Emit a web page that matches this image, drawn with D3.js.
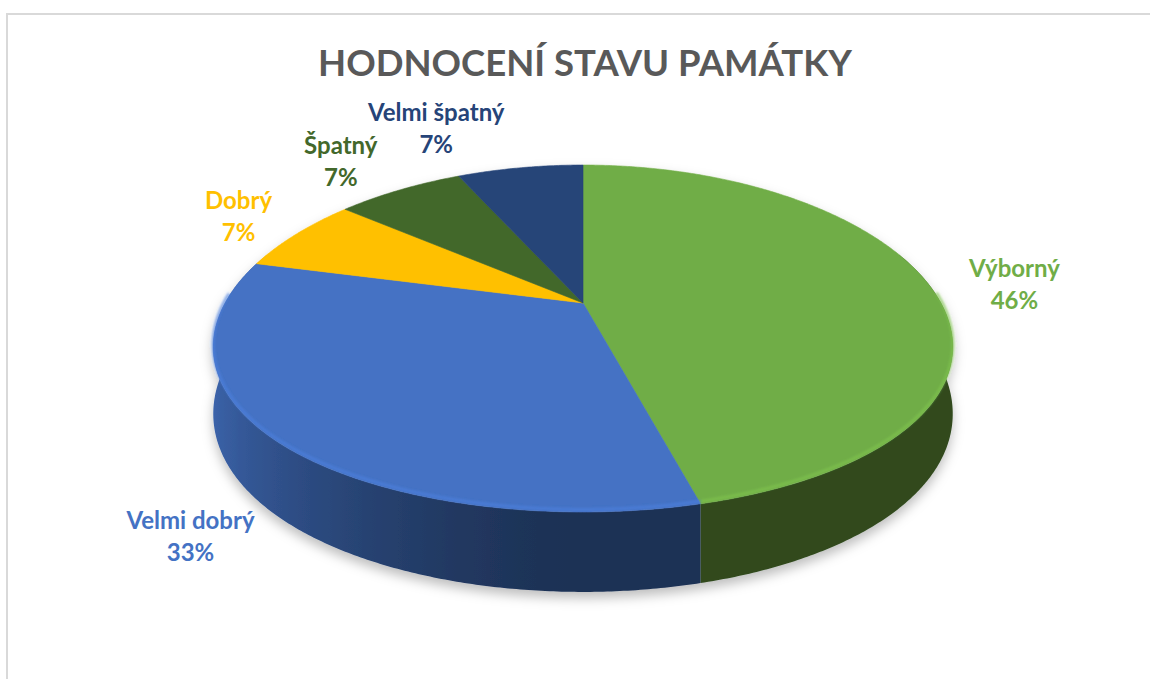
<!DOCTYPE html>
<html><head><meta charset="utf-8">
<script src="https://cdn.jsdelivr.net/npm/d3@7"></script>
<style>html,body{margin:0;padding:0;background:#fff;} svg{display:block;}</style>
</head><body>
<svg id="chart" width="1150" height="679"></svg>
<script>
// ---- data ----
const title = "HODNOCENÍ STAVU PAMÁTKY";
const categories = ["Výborný", "Velmi dobrý", "Dobrý", "Špatný", "Velmi špatný"];
const values = [46, 33, 7, 7, 7];
const colors = ["#70AD47", "#4472C4", "#FFC000", "#43682B", "#264478"];

// ---- layout ----
const W = 1150, H = 679;
const cx = 583, cy = 303, A = 358, B = 166.2, p = 0.2046, q = 0.25, depth = 63.6;
const labelOffsets = [[87, -6], [-85, 89], [-58, -25], [-59, -36], [-84, -47]];
const lineGap = 32;

const svg = d3.select("#chart");
const defs = svg.append("defs");
const sh = defs.append("filter").attr("id", "shadow").attr("x", "-10%").attr("y", "-10%").attr("width", "120%").attr("height", "130%");
sh.append("feDropShadow").attr("dx", 0).attr("dy", 6).attr("stdDeviation", 6).attr("flood-color", "#000").attr("flood-opacity", 0.26);
const bl = defs.append("filter").attr("id", "blur").attr("x", "-5%").attr("y", "-5%").attr("width", "110%").attr("height", "110%");
bl.append("feGaussianBlur").attr("stdDeviation", 1.3);

// chart border
svg.append("rect").attr("x", 7).attr("y", 14).attr("width", W + 20).attr("height", H + 20)
  .attr("fill", "none").attr("stroke", "#D9D9D9").attr("stroke-width", 2);

svg.append("text").attr("x", 585).attr("y", 76).attr("text-anchor", "middle")
  .attr("font-family", "Lato, 'Open Sans', sans-serif").attr("font-weight", 700)
  .attr("font-size", 36.5).attr("fill", "#595959").text(title);

function topPt(t) {
  const s = Math.sin(t), c = Math.cos(t);
  return [cx + A * s / (1 + q * c), cy - B * c / (1 + p * c)];
}
function botPt(t) {
  const s = Math.sin(t), c = Math.cos(t);
  return [cx + A * s / (1 + q * c), cy - B * c / (1 + p * c) + depth / (1 + p * c)];
}
function shade(t) {
  return 0.43 + 0.47 * Math.pow(Math.max(0, -Math.sin(t)), 1.5);
}

const pie = d3.pie().sort(null).value(d => d);
const arcs = pie(values);
const total = d3.sum(values);
const pct = d3.format(".0%");
const line = d3.line();
const step = Math.PI / 360;
const silR = Math.PI - Math.acos(q), silL = Math.PI + Math.acos(q); // silhouette angles

const g = svg.append("g").attr("filter", "url(#shadow)");

// side walls, one path per slice with a horizontal shading gradient
arcs.forEach((a, i) => {
  const t0 = Math.max(a.startAngle, Math.PI * 0.4), t1 = Math.min(a.endAngle, Math.PI * 1.6);
  if (t1 <= t0) return;
  const n = Math.max(2, Math.ceil((t1 - t0) / step));
  const ts = d3.range(n + 1).map(k => t0 + (t1 - t0) * k / n);
  const pts = ts.map(topPt).concat(ts.slice().reverse().map(botPt));
  const base = d3.rgb(colors[i]);
  // gradient stops over visible (front-facing) angles
  const vis = ts.filter(t => t >= silR && t <= silL);
  const use = vis.length > 1 ? vis : ts;
  const xs = use.map(t => topPt(t)[0]);
  const x0 = d3.min(xs), x1 = d3.max(xs);
  const gid = "side" + i;
  const grad = defs.append("linearGradient").attr("id", gid).attr("gradientUnits", "userSpaceOnUse")
    .attr("x1", x0).attr("x2", x1 + 0.01).attr("y1", 0).attr("y2", 0);
  const stops = use.map(t => ({ o: (topPt(t)[0] - x0) / (x1 - x0 + 0.01), f: shade(t) }))
    .sort((u, v) => u.o - v.o);
  stops.filter((s, k) => k % 4 === 0 || k === stops.length - 1).forEach(s => {
    grad.append("stop").attr("offset", Math.max(0, Math.min(1, s.o)))
      .attr("stop-color", d3.rgb(base.r * s.f, base.g * s.f, base.b * s.f).formatHex());
  });
  g.append("path").attr("d", line(pts) + "Z").attr("fill", `url(#${gid})`);
});

// top faces
function topPath(a) {
  const n = Math.max(2, Math.ceil((a.endAngle - a.startAngle) / step));
  const pts = [[cx, cy]];
  for (let k = 0; k <= n; k++) pts.push(topPt(a.startAngle + (a.endAngle - a.startAngle) * k / n));
  return line(pts) + "Z";
}
g.selectAll("path.top").data(arcs).join("path").attr("class", "top")
  .attr("d", topPath).attr("fill", (d, i) => colors[i]).attr("stroke", (d, i) => colors[i]).attr("stroke-width", 0.6);

// bevel highlight along the front rim
arcs.forEach((a, i) => {
  const pts = [];
  const n = Math.max(2, Math.ceil((a.endAngle - a.startAngle) / step));
  for (let k = 0; k <= n; k++) {
    const t = a.startAngle + (a.endAngle - a.startAngle) * k / n;
    if (Math.cos(t) < 0.05) { const pt = topPt(t); pts.push([pt[0], pt[1] - 2.5]); }
  }
  if (pts.length > 1) {
    g.append("path").attr("d", line(pts)).attr("fill", "none")
      .attr("stroke", d3.rgb(colors[i]).brighter(0.35)).attr("stroke-width", 3)
      .attr("stroke-opacity", 0.65).attr("filter", "url(#blur)");
  }
});

// labels
const lg = svg.append("g").attr("font-family", "Lato, 'Open Sans', sans-serif")
  .attr("font-weight", 700).attr("font-size", 24).attr("text-anchor", "middle");
arcs.forEach((a, i) => {
  const mid = (a.startAngle + a.endAngle) / 2;
  const pt = topPt(mid);
  const x = pt[0] + labelOffsets[i][0], y = pt[1] + labelOffsets[i][1];
  const t = lg.append("text").attr("fill", colors[i]);
  t.append("tspan").attr("x", x).attr("y", y).text(categories[i]);
  t.append("tspan").attr("x", x).attr("y", y + lineGap).text(pct(a.data / total));
});
</script>
</body></html>
